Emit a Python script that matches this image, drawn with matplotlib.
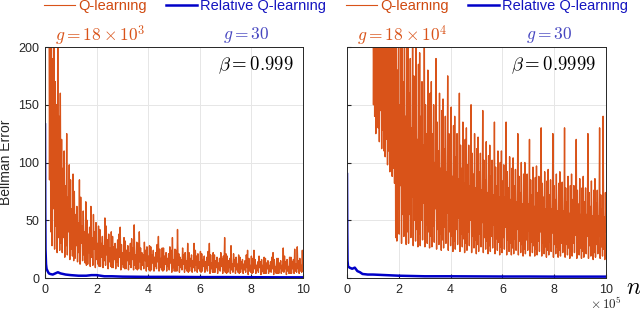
import numpy as np
import matplotlib
matplotlib.use("Agg")
from matplotlib import pyplot as plt
from matplotlib.lines import Line2D

plt.rcParams["mathtext.fontset"] = "cm"

orange = "#D95319"
blue = "#0000C8"

# Q-learning, beta = 0.999 (left), n from 0.15e5 to 10e5
qLeft = [
    330, 85, 260, 40, 215, 28, 190, 60, 240, 25, 170, 45, 150, 22, 205, 35, 140, 24, 160, 30,
    120, 22, 95, 35, 110, 18, 80, 28, 125, 20, 70, 40, 98, 16, 85, 25, 60, 19, 90, 15,
    75, 17, 55, 28, 62, 14, 48, 22, 85, 12, 70, 30, 45, 15, 58, 20, 40, 13, 66, 11,
    50, 12, 38, 22, 44, 10, 62, 18, 35, 11, 55, 25, 40, 9, 48, 16, 30, 12, 45, 10,
    42, 10, 30, 18, 36, 9, 28, 15, 52, 11, 45, 20, 33, 8, 38, 14, 26, 10, 40, 9,
    36, 9, 27, 16, 30, 8, 25, 14, 33, 10, 38, 18, 44, 7, 29, 12, 22, 9, 35, 8,
    32, 8, 24, 15, 28, 7, 22, 12, 30, 9, 34, 16, 26, 7, 46, 11, 20, 8, 31, 7,
    30, 8, 40, 14, 26, 7, 22, 11, 20, 8, 31, 15, 24, 6, 27, 10, 19, 7, 28, 6,
    27, 7, 20, 13, 24, 6, 18, 10, 22, 8, 29, 14, 36, 6, 25, 9, 17, 7, 26, 6,
    26, 7, 19, 12, 22, 6, 17, 10, 21, 7, 27, 13, 24, 5, 35, 9, 16, 6, 25, 6,
    24, 6, 42, 11, 21, 5, 18, 9, 16, 7, 26, 12, 20, 5, 22, 8, 15, 6, 30, 5,
    22, 6, 17, 10, 20, 5, 15, 9, 30, 6, 24, 11, 19, 5, 21, 8, 14, 6, 23, 5,
    21, 6, 16, 10, 19, 5, 14, 8, 18, 6, 23, 11, 30, 4, 20, 8, 13, 5, 22, 5,
    20, 5, 15, 9, 18, 4, 13, 8, 17, 6, 22, 10, 17, 4, 19, 7, 35, 5, 21, 4,
    19, 5, 15, 9, 17, 4, 28, 7, 12, 5, 21, 10, 16, 4, 18, 7, 12, 5, 20, 4,
    18, 5, 14, 8, 16, 4, 12, 7, 15, 5, 20, 9, 24, 3, 17, 6, 11, 5, 19, 4,
    17, 5, 24, 8, 16, 4, 11, 7, 14, 5, 19, 9, 14, 3, 16, 6, 11, 4, 18, 4,
    17, 4, 13, 8, 15, 4, 11, 6, 14, 5, 18, 8, 22, 3, 16, 6, 10, 4, 17, 4,
    17, 4, 13, 8, 15, 4, 11, 6, 26, 5, 19, 8, 14, 3, 16, 6, 10, 4, 18, 4,
    18, 4, 14, 8, 16, 4, 25, 6, 12, 5, 27, 8, 15, 4, 17, 6, 11, 5, 24, 6,
]

# Q-learning, beta = 0.9999 (right), n from 1e5 to 10e5
qRight = [
    300, 150, 260, 140, 330, 125, 280, 160, 240, 130, 310, 118, 270, 145, 250, 112, 290, 128, 230, 110,
    280, 105, 240, 120, 300, 98, 250, 110, 220, 92, 270, 102, 235, 88, 260, 95, 215, 82, 245, 35,
    250, 32, 180, 60, 230, 38, 150, 80, 210, 30, 240, 55, 170, 36, 260, 45, 140, 29, 200, 40,
    220, 30, 160, 55, 190, 35, 130, 70, 240, 28, 175, 50, 145, 32, 205, 42, 120, 27, 185, 38,
    195, 28, 140, 50, 170, 33, 115, 65, 210, 27, 150, 46, 125, 30, 180, 40, 105, 26, 160, 36,
    170, 27, 125, 45, 150, 31, 100, 60, 190, 25, 135, 42, 110, 29, 160, 38, 95, 24, 145, 33,
    155, 26, 112, 44, 140, 30, 92, 56, 175, 24, 125, 40, 100, 28, 148, 36, 88, 23, 132, 32,
    140, 25, 105, 42, 125, 29, 86, 52, 160, 23, 115, 38, 95, 27, 135, 34, 82, 22, 120, 30,
    130, 24, 98, 40, 115, 28, 80, 50, 150, 22, 108, 36, 90, 26, 125, 33, 78, 21, 112, 29,
    122, 23, 92, 38, 108, 27, 76, 48, 145, 22, 102, 35, 85, 25, 118, 32, 74, 21, 106, 28,
    115, 23, 88, 36, 102, 26, 72, 46, 135, 21, 96, 34, 80, 24, 110, 31, 70, 20, 100, 27,
    110, 22, 84, 35, 98, 25, 70, 44, 135, 20, 92, 33, 78, 23, 105, 30, 68, 20, 95, 26,
    104, 21, 80, 34, 94, 24, 66, 42, 125, 20, 88, 32, 74, 22, 100, 29, 64, 19, 90, 25,
    100, 21, 76, 33, 90, 24, 64, 41, 120, 19, 85, 31, 72, 22, 96, 28, 62, 19, 87, 25,
    97, 20, 74, 32, 88, 23, 62, 40, 130, 19, 82, 30, 70, 21, 92, 27, 60, 18, 84, 24,
    94, 20, 72, 31, 85, 23, 60, 39, 125, 18, 80, 29, 68, 21, 90, 27, 58, 18, 82, 24,
    92, 19, 70, 30, 83, 22, 58, 38, 130, 18, 78, 29, 66, 20, 88, 26, 56, 17, 80, 23,
    90, 19, 68, 30, 80, 22, 56, 37, 120, 17, 76, 28, 64, 20, 86, 26, 55, 17, 78, 23,
    88, 18, 66, 29, 78, 21, 55, 36, 125, 17, 74, 28, 62, 19, 84, 25, 54, 16, 76, 22,
    86, 18, 65, 29, 76, 21, 54, 36, 130, 17, 72, 27, 60, 19, 140, 25, 53, 16, 74, 40,
]

# Relative Q-learning
nBlueLeft = [0, 0.01, 0.02, 0.04, 0.06, 0.1, 0.15, 0.2, 0.3, 0.4, 0.5, 0.6, 0.8,
             1.0, 1.3, 1.6, 1.8, 2.0, 2.3, 2.6, 3, 4, 5, 6, 7, 8, 9, 10]
rqLeft = [133, 60, 25, 12, 8, 6, 4, 3.5, 3, 4, 5, 4, 3,
          2.5, 2, 2, 2.5, 2.5, 1.5, 1.5, 1.2, 1, 1, 0.8, 0.8, 0.7, 0.6, 0.6]
nBlueRight = [0, 0.01, 0.02, 0.04, 0.1, 0.2, 0.3, 0.4, 0.5, 0.6, 0.8,
              1.0, 1.5, 2, 3, 4, 5, 6, 7, 8, 9, 10]
rqRight = [90, 40, 15, 10, 9, 8, 9, 6, 5, 3.5, 3,
           3, 2.5, 2, 1.5, 1.5, 1.4, 1.3, 1.3, 1.2, 1.2, 1.2]

nLeft = np.linspace(0.15, 10, len(qLeft))
nRight = np.linspace(1.0, 10, len(qRight))

fig = plt.figure(figsize=(6.4, 3.14), dpi=100)
axL = fig.add_axes([0.0703, 0.1146, 0.4031, 0.7357])
axR = fig.add_axes([0.5422, 0.1146, 0.4047, 0.7357])

panels = [
    (axL, nLeft, qLeft, nBlueLeft, rqLeft, r"$g = 18\times 10^3$", r"$\beta = 0.999$"),
    (axR, nRight, qRight, nBlueRight, rqRight, r"$g = 18\times 10^4$", r"$\beta = 0.9999$"),
]

sansFam = ["Liberation Sans", "DejaVu Sans"]

for ax, nq, q, nb, rq, gText, betaText in panels:
    ax.plot(nq, q, color=orange, lw=1.0)
    ax.plot(nb, rq, color=blue, lw=1.8)
    ax.set_xlim(0, 10)
    ax.set_ylim(0, 200)
    ax.set_xticks(range(0, 11, 2))
    ax.set_yticks(range(0, 201, 50))
    ax.grid(True, color="#e6e6e6", lw=0.7)
    ax.set_axisbelow(True)
    ax.tick_params(direction="in", length=3, labelsize=9, colors="#262626", pad=4)
    for s in ax.spines.values():
        s.set_color("#262626")
        s.set_linewidth(0.7)
    for lab in ax.get_xticklabels() + ax.get_yticklabels():
        lab.set_family(sansFam)
    ax.text(0.963, 0.922, betaText, transform=ax.transAxes, ha="right", va="center",
            fontsize=13.5, color="black")
    ax.text(0.215, 1.05, gText, transform=ax.transAxes, ha="center", va="center",
            fontsize=12.5, color=orange)
    ax.text(0.78, 1.05, r"$g = 30$", transform=ax.transAxes, ha="center", va="center",
            fontsize=12.5, color="#4646C0")
    handles = [Line2D([], [], color=orange, lw=0.8), Line2D([], [], color=blue, lw=1.8)]
    leg = ax.legend(handles, ["Q-learning", "Relative Q-learning"], ncol=2,
                    loc="lower left", bbox_to_anchor=(-0.025, 1.12), frameon=False,
                    handlelength=2.1, handletextpad=0.2, columnspacing=1.35,
                    borderaxespad=0, prop={"family": sansFam, "size": 10.5})
    leg.get_texts()[0].set_color("#D04A10")
    leg.get_texts()[1].set_color("#1414C0")

axR.set_yticklabels([])
axL.set_ylabel("Bellman Error", fontsize=10, color="#262626",
               family=sansFam, labelpad=4)

fig.text(0.99, 0.085, r"$n$", fontsize=17, ha="center", va="center")
fig.text(0.947, 0.006, r"$\times\,10^5$", fontsize=9.5, ha="center", va="bottom", color="#262626")

fig.savefig("out.png", dpi=100)
